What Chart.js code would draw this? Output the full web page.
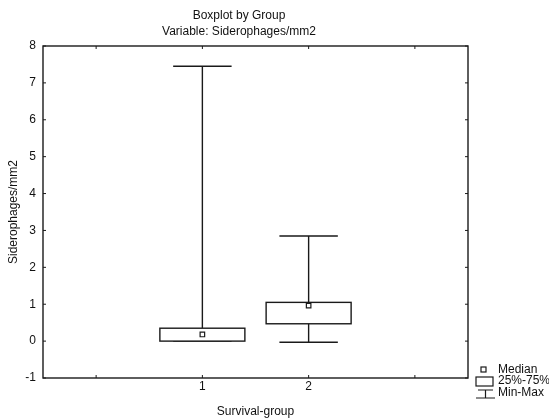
<!DOCTYPE html>
<html>
<head>
<meta charset="utf-8">
<script src="https://cdn.jsdelivr.net/npm/chart.js@4/dist/chart.umd.min.js"></script>
<style>
  html, body { margin: 0; padding: 0; background: #fff; }
  #wrap { width: 549px; height: 419px; }
</style>
</head>
<body>
<div id="wrap"><canvas id="c" width="549" height="419"></canvas></div>
<script>
// ---- data ----
const groups  = [1, 2];
const mins    = [0.00, -0.03];
const q1s     = [0.00, 0.47];
const medians = [0.18, 0.96];
const q3s     = [0.35, 1.05];
const maxs    = [7.45, 2.85];
const yTicks  = [-1, 0, 1, 2, 3, 4, 5, 6, 7, 8];
const xTickLabels = ['1', '2'];
const titleLines = ['Boxplot by Group', 'Variable: Siderophages/mm2'];
const legendLabels = ['Median', '25%-75%', 'Min-Max'];

const FONT = 'Liberation Sans, Arial, sans-serif';
const INK = '#1a1a1a';
const BOX_W = 0.80;   // box width in x units
const CAP_W = 0.55;   // whisker cap width in x units

const boxPlugin = {
  id: 'boxPlugin',
  beforeDatasetsDraw(chart) {
    const {ctx, scales: {x, y}} = chart;
    ctx.save();
    ctx.strokeStyle = INK;
    ctx.lineWidth = 1.4;
    groups.forEach((g, i) => {
      const xc = x.getPixelForValue(g);
      const bl = x.getPixelForValue(g - BOX_W / 2), br = x.getPixelForValue(g + BOX_W / 2);
      const cl = x.getPixelForValue(g - CAP_W / 2), cr = x.getPixelForValue(g + CAP_W / 2);
      const yMin = y.getPixelForValue(mins[i]), yMax = y.getPixelForValue(maxs[i]);
      const yQ1 = y.getPixelForValue(q1s[i]), yQ3 = y.getPixelForValue(q3s[i]);
      ctx.beginPath();
      ctx.moveTo(xc, yQ3); ctx.lineTo(xc, yMax);
      ctx.moveTo(xc, yQ1); ctx.lineTo(xc, yMin);
      ctx.moveTo(cl, yMax); ctx.lineTo(cr, yMax);
      ctx.moveTo(cl, yMin); ctx.lineTo(cr, yMin);
      ctx.stroke();
      ctx.fillStyle = '#fff';
      ctx.fillRect(bl, yQ3, br - bl, yQ1 - yQ3);
      ctx.strokeRect(bl, yQ3, br - bl, yQ1 - yQ3);
    });
    ctx.restore();
  },
  afterDraw(chart) {
    const {ctx, chartArea: a, scales: {x, y}} = chart;
    ctx.save();
    ctx.strokeStyle = INK;
    ctx.lineWidth = 1.4;
    ctx.strokeRect(a.left, a.top, a.right - a.left, a.bottom - a.top);
    ctx.lineWidth = 1;
    ctx.beginPath();
    y.ticks.forEach(t => {
      const py = y.getPixelForValue(t.value);
      ctx.moveTo(a.left, py); ctx.lineTo(a.left + 3, py);
      ctx.moveTo(a.right, py); ctx.lineTo(a.right - 3, py);
    });
    x.ticks.forEach(t => {
      const px = x.getPixelForValue(t.value);
      ctx.moveTo(px, a.bottom); ctx.lineTo(px, a.bottom - 3);
      ctx.moveTo(px, a.top); ctx.lineTo(px, a.top + 3);
    });
    ctx.stroke();
    ctx.fillStyle = '#111';
    ctx.font = '12px ' + FONT;
    ctx.textAlign = 'center';
    ctx.textBaseline = 'middle';
    ctx.fillText(titleLines[0], 239, 16);
    ctx.fillText(titleLines[1], 239, 32);
    ctx.textAlign = 'left';
    ctx.fillText(legendLabels[0], 498, 370);
    ctx.fillText(legendLabels[1], 498, 381);
    ctx.fillText(legendLabels[2], 498, 393);
    ctx.strokeStyle = INK;
    ctx.lineWidth = 1.2;
    ctx.strokeRect(481, 367, 5, 5);
    ctx.strokeRect(476, 377, 17, 9);
    ctx.beginPath();
    ctx.moveTo(478, 390); ctx.lineTo(493, 390);
    ctx.moveTo(485.5, 390); ctx.lineTo(485.5, 398);
    ctx.moveTo(476, 398); ctx.lineTo(495, 398);
    ctx.stroke();
    ctx.restore();
  }
};

new Chart(document.getElementById('c'), {
  type: 'scatter',
  data: {
    datasets: [{
      label: 'Median',
      data: groups.map((g, i) => ({x: g, y: medians[i]})),
      pointStyle: 'rect',
      pointRadius: 3.2,
      pointHoverRadius: 3.2,
      backgroundColor: '#fff',
      borderColor: INK,
      borderWidth: 1.2
    }]
  },
  options: {
    responsive: false,
    animation: false,
    events: [],
    layout: { padding: { top: 46, right: 81, bottom: 0, left: 0 } },
    plugins: { legend: { display: false }, title: { display: false }, tooltip: { enabled: false } },
    scales: {
      x: {
        type: 'linear', min: -0.5, max: 3.5,
        afterFit: s => { s.height = 41; },
        afterBuildTicks: s => { s.ticks = [0, 1, 2, 3].map(v => ({value: v})); },
        grid: { display: false, drawTicks: false },
        border: { display: false },
        ticks: {
          padding: 1, color: '#111', font: { family: FONT, size: 12 },
          autoSkip: false, maxRotation: 0,
          callback: v => (v >= 1 && v <= xTickLabels.length) ? xTickLabels[v - 1] : ''
        },
        title: { display: true, text: 'Survival-group', color: '#111', font: { family: FONT, size: 12, lineHeight: 1.0 }, padding: { top: 0, bottom: 1 } }
      },
      y: {
        type: 'linear', min: -1, max: 8,
        afterFit: s => { s.width = 43; },
        afterBuildTicks: s => { s.ticks = yTicks.map(v => ({value: v})); },
        grid: { display: false, drawTicks: false },
        border: { display: false },
        ticks: { padding: 7, color: '#111', font: { family: FONT, size: 12 }, autoSkip: false },
        title: { display: true, text: 'Siderophages/mm2', color: '#111', font: { family: FONT, size: 12 }, padding: { top: 6, bottom: 0 } }
      }
    }
  },
  plugins: [boxPlugin]
});
</script>
</body>
</html>
